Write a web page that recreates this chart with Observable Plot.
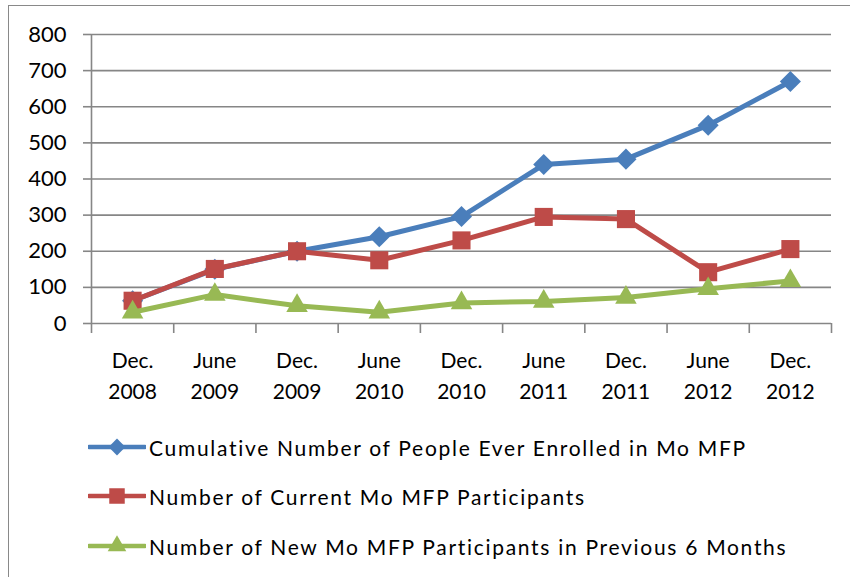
<!DOCTYPE html>
<html>
<head>
<meta charset="utf-8">
<script src="https://cdn.jsdelivr.net/npm/d3@7"></script>
<script src="https://cdn.jsdelivr.net/npm/@observablehq/plot@0.6"></script>
<style>
  html, body { margin: 0; padding: 0; background: #fff; overflow: hidden; }
  #wrap { position: relative; width: 850px; height: 577px; font-family: Lato, "Open Sans", sans-serif; }
  #frame { position: absolute; left: 8px; top: 5px; width: 900px; height: 640px; border: 1.5px solid #898989; box-sizing: border-box; }
  #chart { position: absolute; left: 0; top: 0; }
  .leg { position: absolute; left: 88px; height: 30px; display: flex; align-items: center; font-size: 21px; letter-spacing: 1.7px; color: #000; white-space: nowrap; }
  .leg svg { margin-right: 3px; }
</style>
</head>
<body>
<div id="wrap">
  <div id="frame"></div>
  <div id="chart"></div>
</div>
<script>
const categories = ["Dec. 2008", "June 2009", "Dec. 2009", "June 2010", "Dec. 2010", "June 2011", "Dec. 2011", "June 2012", "Dec. 2012"];
const cumulativeEnrolled = [63, 150, 200, 240, 296, 440, 455, 549, 670];
const currentParticipants = [63, 151, 200, 175, 230, 295, 289, 142, 206];
const newParticipants = [31, 80, 49, 31, 57, 61, 72, 96, 118];
const seriesNames = [
  "Cumulative Number of People Ever Enrolled in Mo MFP",
  "Number of Current Mo MFP Participants",
  "Number of New Mo MFP Participants in Previous 6 Months"
];
const seriesColors = ["#4A7EBB", "#BE4B48", "#98B954"];
const seriesSymbols = ["diamond2", "square", "triangle"];
const yTicks = [0, 100, 200, 300, 400, 500, 600, 700, 800];

const seriesValues = [cumulativeEnrolled, currentParticipants, newParticipants];
const idx = categories.map((_, i) => i);
const boundaries = [-0.5, ...idx.map(i => i + 0.5)];
const gridColor = "#868686";

const seriesMarks = seriesValues.flatMap((vals, s) => {
  const rows = vals.map((v, i) => ({i, v}));
  return [
    Plot.line(rows, {x: "i", y: "v", stroke: seriesColors[s], strokeWidth: 5, strokeLinejoin: "round"}),
    Plot.dot(rows, {x: "i", y: "v", symbol: seriesSymbols[s], fill: seriesColors[s], stroke: "none",
      r: s === 0 ? 9.5 : s === 1 ? 10.2 : 8})
  ];
});

const chart = Plot.plot({
  width: 850,
  height: 420,
  marginLeft: 91,
  marginRight: 19,
  marginTop: 34,
  marginBottom: 97,
  style: {fontFamily: "Lato, 'Open Sans', sans-serif", background: "transparent"},
  x: {type: "linear", domain: [-0.5, categories.length - 0.5], label: null},
  y: {domain: [0, 800], label: null},
  marks: [
    Plot.gridY(yTicks, {stroke: gridColor, strokeOpacity: 1, strokeWidth: 1.6}),
    Plot.axisY(yTicks, {tickSize: 8, tickPadding: 17, fontSize: 22, stroke: gridColor, strokeWidth: 1.6, fill: "#000", label: null, tickFormat: d => String(d)}),
    Plot.ruleX([-0.5], {stroke: gridColor, strokeWidth: 1.6}),
    Plot.axisX(boundaries, {tickSize: 10, tickFormat: () => "", stroke: gridColor, strokeWidth: 1.6, label: null}),
    Plot.text(idx, {x: d => d, y: 0, text: i => categories[i].replace(" ", "\n"), dy: 22, lineAnchor: "top", lineHeight: 1.48, fontSize: 21, fill: "#000", letterSpacing: 0.5}),
    ...seriesMarks
  ]
});
document.getElementById("chart").appendChild(chart);

// Legend
const wrap = document.getElementById("wrap");
const legendCenters = [447, 496, 546];
seriesNames.forEach((name, s) => {
  const row = document.createElement("div");
  row.className = "leg";
  row.style.top = (legendCenters[s] - 15) + "px";
  const sym = {diamond2: d3.symbolDiamond2, square: d3.symbolSquare, triangle: d3.symbolTriangle}[seriesSymbols[s]];
  const size = s === 0 ? 180 : s === 1 ? 240 : 150;
  const svg = d3.create("svg").attr("width", 58).attr("height", 30);
  svg.append("line").attr("x1", 1).attr("x2", 57).attr("y1", 15).attr("y2", 15)
    .attr("stroke", seriesColors[s]).attr("stroke-width", 4.5).attr("stroke-linecap", "round");
  svg.append("path").attr("transform", "translate(29,15)").attr("d", d3.symbol(sym, size)())
    .attr("fill", seriesColors[s]);
  row.appendChild(svg.node());
  const span = document.createElement("span");
  span.textContent = name;
  row.appendChild(span);
  wrap.appendChild(row);
});
</script>
</body>
</html>
